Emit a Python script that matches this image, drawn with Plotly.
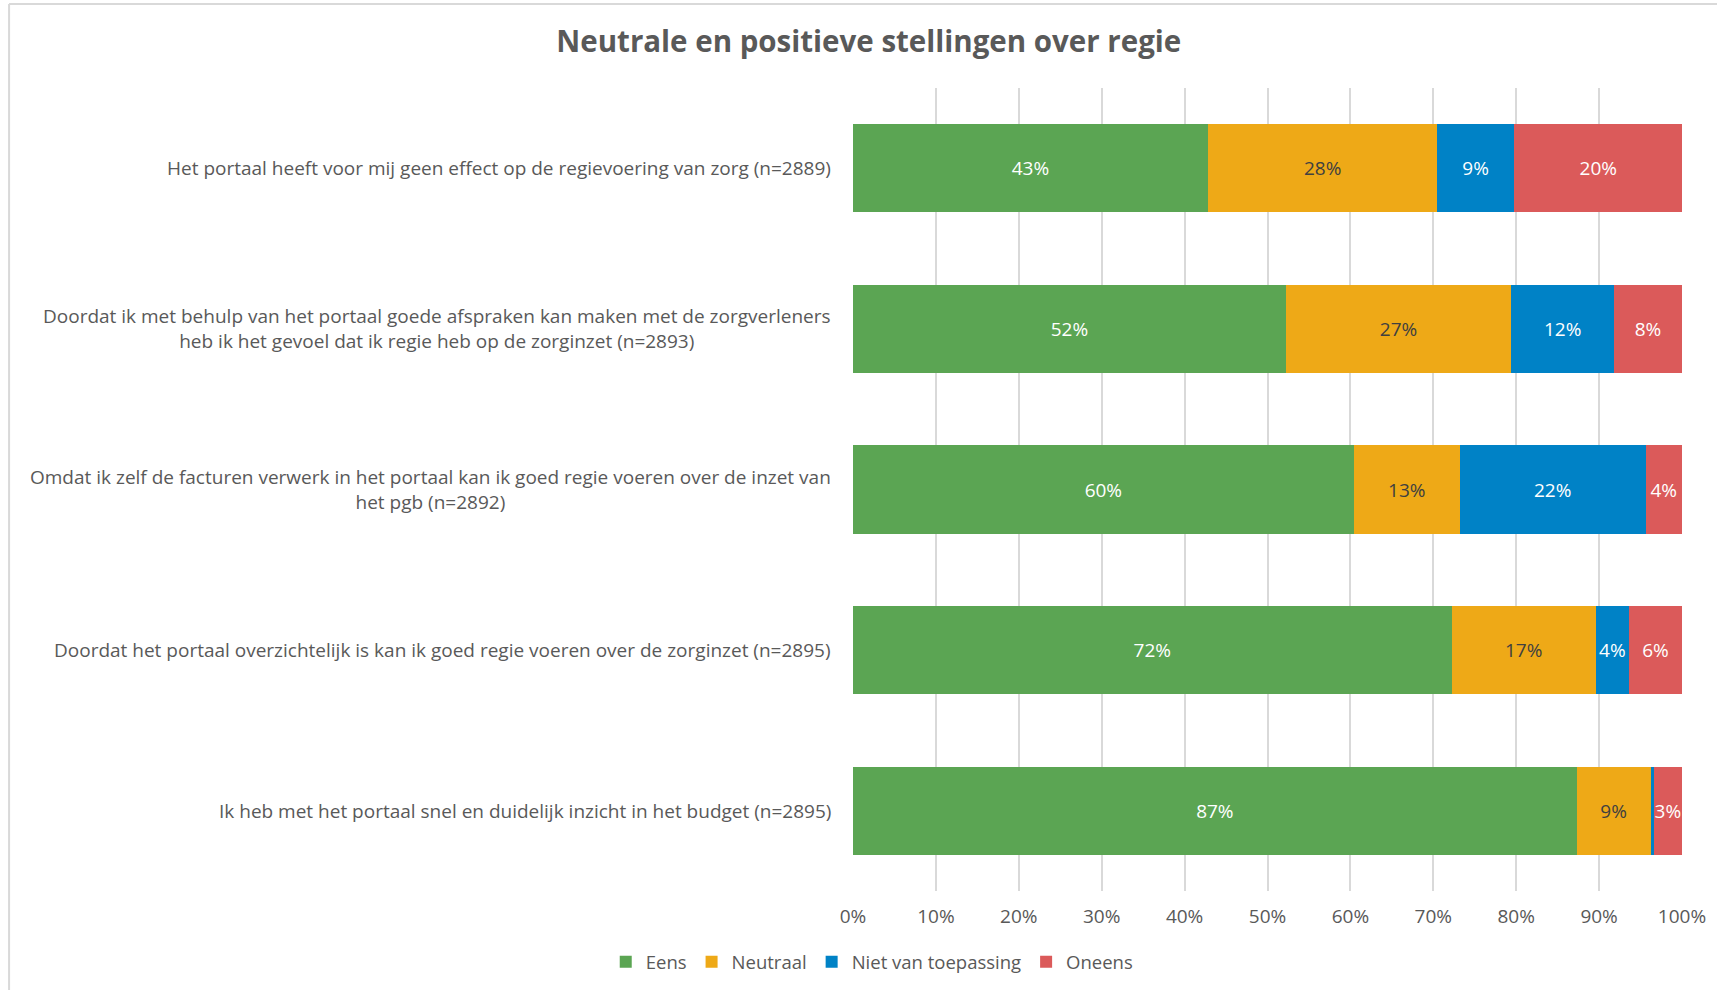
import plotly.graph_objects as go

categories = [
    "Het portaal heeft voor mij geen effect op de regievoering van zorg (n=2889)",
    "Doordat ik met behulp van het portaal goede afspraken kan maken met de zorgverleners<br>heb ik het gevoel dat ik regie heb op de zorginzet (n=2893)",
    "Omdat ik zelf de facturen verwerk in het portaal kan ik goed regie voeren over de inzet van<br>het pgb (n=2892)",
    "Doordat het portaal overzichtelijk is kan ik goed regie voeren over de zorginzet (n=2895)",
    "Ik heb met het portaal snel en duidelijk inzicht in het budget (n=2895)",
]
series_names = ["Eens", "Neutraal", "Niet van toepassing", "Oneens"]
eens = [42.8, 52.2, 60.4, 72.2, 87.3]
neutraal = [27.7, 27.2, 12.8, 17.4, 8.9]
niet_van_toepassing = [9.2, 12.4, 22.4, 4.0, 0.4]
oneens = [20.4, 8.2, 4.4, 6.4, 3.4]
x_ticks = [0, 10, 20, 30, 40, 50, 60, 70, 80, 90, 100]

colors = ["#5BA553", "#EEA917", "#0082C6", "#DB5A5A"]
text_colors = ["white", "#404040", "white", "white"]
FONT = "Open Sans"
FS = 19

fig = go.Figure()
for name, vals, col, tcol in zip(series_names, [eens, neutraal, niet_van_toepassing, oneens], colors, text_colors):
    fig.add_trace(go.Bar(
        y=categories, x=vals, name=name, orientation="h",
        marker=dict(color=col, line=dict(width=0)),
        text=[f"{round(v)}%" if v >= 1 else "" for v in vals],
        textposition="inside", insidetextanchor="middle", textangle=0,
        textfont=dict(color=tcol, size=FS, family=FONT),
        hoverinfo="skip",
    ))

for c in categories:
    fig.add_annotation(
        x=0, xref="paper", y=c, yref="y", text=c, showarrow=False,
        xanchor="right", yanchor="middle", align="center", xshift=-20,
        font=dict(size=FS, color="#595959", family=FONT),
    )

fig.update_layout(
    barmode="stack",
    bargap=0.45,
    width=1717, height=990,
    paper_bgcolor="white", plot_bgcolor="white",
    margin=dict(l=853, r=35, t=88, b=99),
    title=dict(text="<b>Neutrale en positieve stellingen over regie</b>",
               x=0.506, xref="container", xanchor="center", y=0.958, yref="container",
               yanchor="middle",
               font=dict(size=29.5, color="#595959", family=FONT)),
    font=dict(family=FONT, color="#595959", size=FS),
    uniformtext=dict(minsize=FS, mode="show"),
    legend=dict(orientation="h", x=0.508, xref="container", xanchor="center",
                y=0.028, yref="container", yanchor="middle",
                font=dict(size=18.5, color="#595959", family=FONT),
                itemwidth=30, traceorder="normal", itemclick=False),
    showlegend=True,
)
fig.update_xaxes(range=[0, 100], tickvals=x_ticks, ticktext=[f"{t}%" for t in x_ticks],
                 showgrid=True, gridcolor="#D9D9D9", gridwidth=1.5,
                 zeroline=False, showline=False, ticks="outside", ticklen=8, tickcolor="white",
                 tickfont=dict(size=FS, color="#595959", family=FONT), fixedrange=True)
fig.update_yaxes(autorange="reversed", showticklabels=False, showgrid=False,
                 zeroline=False, showline=False, fixedrange=True)

# chart border (top and left edges visible)
fig.add_shape(type="line", xref="paper", yref="paper", x0=-1.018, x1=1.1, y0=1.1046, y1=1.1046,
              line=dict(color="#D9D9D9", width=2))
fig.add_shape(type="line", xref="paper", yref="paper", x0=-1.018, x1=-1.018, y0=-0.2, y1=1.1046,
              line=dict(color="#D9D9D9", width=2))

fig.write_html("out.html", config={"displayModeBar": False},
               post_script="document.body.style.margin='0px';")
